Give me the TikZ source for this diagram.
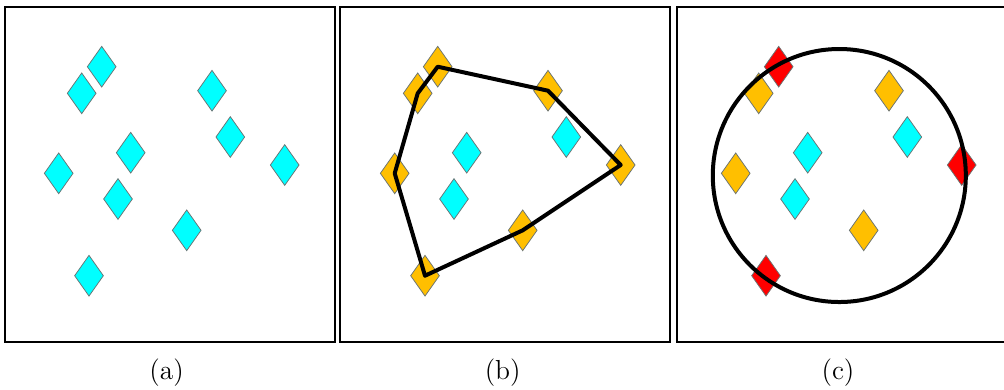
\documentclass[tikz,border=0pt]{standalone}
\usepackage{tikz}
\usetikzlibrary{shapes.geometric}
\definecolor{ptCyan}{RGB}{0,255,255}
\definecolor{ptAmber}{RGB}{255,191,0}
\definecolor{ptRed}{RGB}{255,0,0}
\definecolor{ptEdge}{RGB}{105,115,115}

\begin{document}
\begin{tikzpicture}[x=0.4pt,y=-0.4pt,
  pt/.style={diamond,draw=ptEdge,line width=0.3pt,inner sep=0pt,minimum width=11.6pt,minimum height=16.4pt},
  frame/.style={draw=black,line width=0.8pt},
  hull/.style={draw=black,line width=1.6pt,line join=round},
  sublabel/.style={font=\fontsize{11}{13}\selectfont}]
\useasboundingbox (0,0) rectangle (1004,389);
\foreach \x in {5,340,677}
  \draw[frame] (\x,7) rectangle (\x+330,342);
\foreach \i/\px/\py/\cb/\cc in {1/101.7/66.7/ptAmber/ptRed,2/81.7/93.3/ptAmber/ptAmber,
    3/212/90.7/ptAmber/ptAmber,4/230.3/137/ptCyan/ptCyan,5/130.7/152.7/ptCyan/ptCyan,
    6/58.7/173.3/ptAmber/ptAmber,7/284.7/165/ptAmber/ptRed,8/118/199/ptCyan/ptCyan,
    9/186.7/230.3/ptAmber/ptAmber,10/89/275.7/ptAmber/ptRed}{
  \node[pt,fill=ptCyan] (a\i) at (\px,\py) {};
  \node[pt,fill=\cb] (b\i) at (\px+336,\py) {};
  \node[pt,fill=\cc] (c\i) at (\px+677,\py) {};
}
\draw[hull] (b1.center) -- (b3.center) -- (b7.center) -- (b9.center) -- (b10.center) -- (b6.center) -- (b2.center) -- cycle;
\node[circle,draw,line width=1.6pt,inner sep=0pt,minimum size=101.2pt] (enc) at (839.3,175.5) {};
\node[sublabel] (la) at (166.7,373) {(a)};
\node[sublabel] (lb) at (502.7,373) {(b)};
\node[sublabel] (lc) at (838,373) {(c)};
\end{tikzpicture}
\end{document}
